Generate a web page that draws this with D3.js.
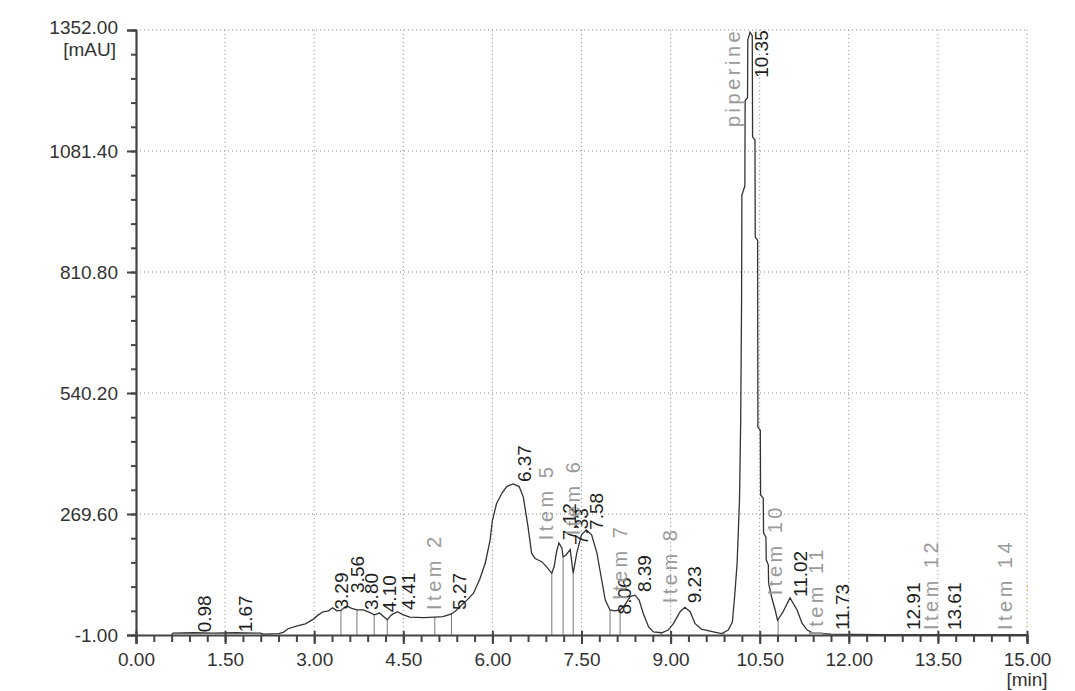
<!DOCTYPE html>
<html><head><meta charset="utf-8">
<script src="https://cdn.jsdelivr.net/npm/d3@7"></script>
<style>
body{margin:0;background:#fff}
svg{display:block}
text{font-family:"Liberation Sans",Arial,sans-serif}
</style>
</head><body>
<svg id="c" width="1075" height="691"></svg>
<script>
// ---- data ----
const times  = [0.60,0.62,0.98,1.30,1.67,2.10,2.14,2.40,2.48,2.56,2.70,2.85,2.98,3.07,3.15,3.24,3.31,3.38,3.45,3.52,3.57,3.62,3.72,3.83,3.94,4.01,4.10,4.23,4.30,4.40,4.50,4.61,4.84,5.03,5.17,5.31,5.40,5.48,5.57,5.68,5.79,5.88,5.96,6.00,6.07,6.16,6.24,6.35,6.45,6.52,6.60,6.66,6.72,6.83,6.91,7.00,7.04,7.08,7.12,7.17,7.19,7.24,7.31,7.36,7.42,7.50,7.58,7.67,7.76,7.84,7.90,7.98,8.06,8.15,8.23,8.32,8.40,8.47,8.54,8.63,8.71,8.85,8.96,9.05,9.16,9.24,9.33,9.41,9.52,9.72,9.86,9.97,10.04,10.08,10.12,10.16,10.18,10.195,10.20,10.25,10.255,10.295,10.30,10.337,10.375,10.38,10.42,10.425,10.465,10.47,10.51,10.515,10.56,10.565,10.605,10.61,10.645,10.65,10.70,10.76,10.80,10.89,11.01,11.13,11.21,11.30,11.40,11.70,12.50,15.00];
const signal = [-1,3,4,3,4,3,1,2,5,13,19,24,34,44,51,53,60,53,54,62,63,59,55,55,49,44,48,33,44,51,44,39,38,39,40,46,55,66,77,92,125,160,210,255,293,316,331,337,331,308,241,182,170,163,152,137,152,185,205,193,174,178,190,137,182,223,234,223,182,122,77,55,53,55,66,85,88,77,47,17,6,4,10,25,51,61,51,25,12,6,2,10,28,88,160,301,480,748,983,1003,1195,1200,1330,1347,1339,1113,1106,889,882,464,457,312,305,227,218,167,156,115,84,55,32,50,82,55,26,10,3,1,0,0];

const xTickValues = [0,1.5,3,4.5,6,7.5,9,10.5,12,13.5,15];
const yTickValues = [-1,269.6,540.2,810.8,1081.4,1352];
const xMinorStep = 0.3;
const yMinorStep = 54.12;
const xUnit = "[min]";
const yUnit = "[mAU]";

// peak boundary drop lines (minutes)
const dropTimes = [0.60,2.12,3.45,3.72,4.01,4.23,5.03,5.31,7.00,7.19,7.36,7.98,8.15,8.84,9.90,10.81,11.35];

// retention-time labels
const peakTimes = [0.98,1.67,3.29,3.56,3.80,4.10,4.41,5.27,6.37,7.12,7.33,7.58,8.06,8.39,9.23,10.35,11.02,11.73,12.91,13.61,14.95];
const peakLabelBase = [5,5,56,93,55,50,55,55,341,211,200,234,45,95,70,1245,84,10,10,10,10];

// component name labels
const itemNames = ["Item 2","Item 5","Item 6","Item 7","Item 8","piperine","Item 10","Item 11","Item 12","Item 14"];
const itemTimes = [4.85,6.73,7.19,7.98,8.82,9.89,10.59,11.28,13.22,14.46];
const itemBase  = [55,211,222,77,70,1135,88,-3,10,10];

// ---- drawing ----
const svg = d3.select("#c");
const x = d3.scaleLinear().domain([0,15]).range([136,1027]);
const y = d3.scaleLinear().domain([-1,1352]).range([635,30]);

svg.append("defs").append("clipPath").attr("id","clip")
  .append("rect").attr("x",x(0)).attr("y",y(1352)-2).attr("width",x(15)-x(0)+1).attr("height",y(-1)-y(1352)+8);

// grid
const grid = svg.append("g");
xTickValues.filter(d=>d>0).forEach(d=>{
  grid.append("line").attr("x1",x(d)).attr("x2",x(d)).attr("y1",y(-1)).attr("y2",y(1352))
    .attr("stroke","#8a8a8a").attr("stroke-width",1).attr("stroke-dasharray","1,3");
});
yTickValues.filter(d=>d>-1).forEach(d=>{
  grid.append("line").attr("x1",x(0)).attr("x2",x(15)).attr("y1",y(d)).attr("y2",y(d))
    .attr("stroke","#8a8a8a").attr("stroke-width",1).attr("stroke-dasharray","1,3");
});

// drop lines
const interp = t => {
  const i = d3.bisectLeft(times,t);
  if (i<=0) return signal[0];
  if (i>=times.length) return signal[signal.length-1];
  const t0=times[i-1],t1=times[i];
  return signal[i-1]+(signal[i]-signal[i-1])*(t-t0)/(t1-t0);
};
svg.append("g").selectAll("line").data(dropTimes).join("line")
  .attr("x1",d=>x(d)).attr("x2",d=>x(d))
  .attr("y1",y(-1)).attr("y2",d=>y(interp(d)))
  .attr("stroke","#7a7a7a").attr("stroke-width",1);

// trace
const pts = times.map((t,i)=>[t,signal[i]]);
svg.append("path").datum(pts)
  .attr("clip-path","url(#clip)")
  .attr("d",d3.line().x(d=>x(d[0])).y(d=>y(d[1])))
  .attr("fill","none").attr("stroke","#333").attr("stroke-width",1.3);

// axes
const axisColor = "#444";
const fs = 19;
const yMinor = d3.range(-1, 1352.01, yMinorStep);
const gyMinor = svg.append("g").attr("transform",`translate(${x(0)},0)`)
  .call(d3.axisLeft(y).tickValues(yMinor).tickSize(5).tickFormat(""));
gyMinor.select(".domain").remove();
gyMinor.selectAll("line").attr("stroke",axisColor).attr("stroke-width",2);

const gy = svg.append("g").attr("transform",`translate(${x(0)},0)`)
  .call(d3.axisLeft(y).tickValues(yTickValues).tickSize(9).tickPadding(9).tickFormat(d=>d.toFixed(2)));
gy.select(".domain").attr("stroke",axisColor).attr("stroke-width",2.2);
gy.selectAll("line").attr("stroke",axisColor).attr("stroke-width",2);
gy.selectAll("text").attr("font-size",fs).attr("fill","#333").attr("font-family","Liberation Sans, Arial, sans-serif");
// top label sits slightly higher so the unit fits under it
gy.selectAll(".tick").filter(d=>d===1352).select("text").attr("y",-3);

const xMinor = d3.range(0, 15.001, xMinorStep);
const gxMinor = svg.append("g").attr("transform",`translate(0,${y(-1)})`)
  .call(d3.axisBottom(x).tickValues(xMinor).tickSize(7).tickFormat(""));
gxMinor.select(".domain").remove();
gxMinor.selectAll("line").attr("stroke",axisColor).attr("stroke-width",2);

const gx = svg.append("g").attr("transform",`translate(0,${y(-1)})`)
  .call(d3.axisBottom(x).tickValues(xTickValues).tickSize(9).tickPadding(9).tickFormat(d=>d.toFixed(2)));
gx.select(".domain").attr("stroke",axisColor).attr("stroke-width",2.2);
gx.selectAll(".tick line").attr("y1",-4).attr("stroke",axisColor).attr("stroke-width",2);
gx.selectAll("text").attr("font-size",fs).attr("fill","#333").attr("font-family","Liberation Sans, Arial, sans-serif");

svg.append("text").attr("x",x(0)-20).attr("y",y(1352)+26).attr("text-anchor","end")
  .attr("font-size",fs).attr("fill","#333").text(yUnit);
svg.append("text").attr("x",x(15)).attr("y",y(-1)+51).attr("text-anchor","middle")
  .attr("font-size",fs).attr("fill","#333").text(xUnit);

// labels
const labG = svg.append("g").attr("clip-path","url(#clip)");
peakTimes.forEach((t,i)=>{
  labG.append("text")
    .attr("transform",`translate(${x(t)},${y(peakLabelBase[i])}) rotate(-90)`)
    .attr("dy","0.88em").attr("font-size",fs).attr("fill","#1e1e1e")
    .text(t.toFixed(2));
});
itemNames.forEach((n,i)=>{
  labG.append("text")
    .attr("transform",`translate(${x(itemTimes[i])},${y(itemBase[i])}) rotate(-90)`)
    .attr("dy","0.85em").attr("font-size",20).attr("letter-spacing","3.5px").attr("fill","#9a9a9a")
    .text(n);
});
</script>
</body></html>
